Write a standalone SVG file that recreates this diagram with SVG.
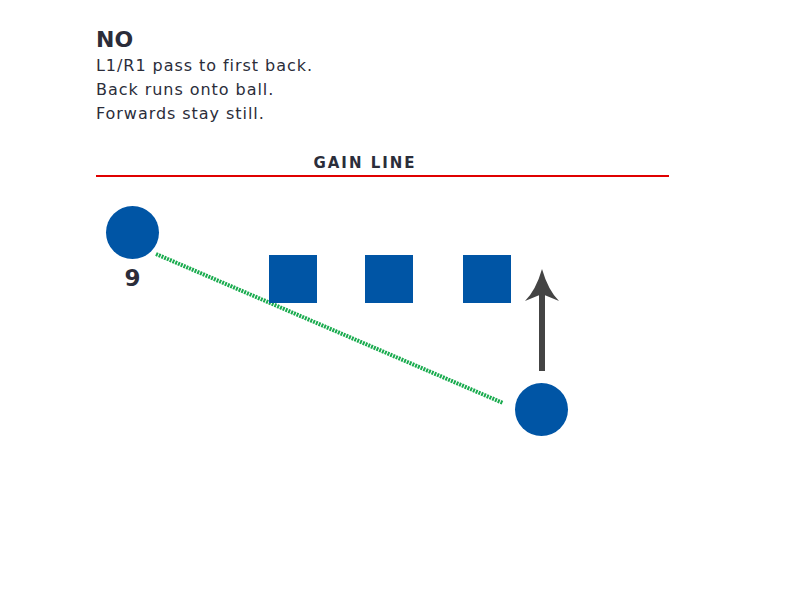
<svg xmlns="http://www.w3.org/2000/svg" width="801" height="609" viewBox="0 0 801 609">
<style>
.t{font-family:"DejaVu Sans","Noto Sans",sans-serif;fill:#2b2d3a}
.body{font-size:16px;letter-spacing:0.95px}
.player{fill:#0055a5}
</style>
<rect width="801" height="609" fill="#fff"/>
<g id="title">
<text class="t" x="96" y="47" font-size="22" font-weight="bold">NO</text>
<text class="t body" x="96" y="71">L1/R1 pass to first back.</text>
<text class="t body" x="96" y="95">Back runs onto ball.</text>
<text class="t body" x="96" y="119">Forwards stay still.</text>
</g>
<g id="gain-line">
<text class="t" x="365" y="168" font-size="15" font-weight="bold" text-anchor="middle" letter-spacing="2">GAIN LINE</text>
<line x1="96" y1="176" x2="669" y2="176" stroke="#e00000" stroke-width="2"/>
</g>
<g id="connectors">
<line x1="156" y1="254" x2="503" y2="403" stroke="#1aab4f" stroke-width="4" stroke-dasharray="2 1"/>
<line x1="542" y1="371" x2="542" y2="292" stroke="#444" stroke-width="6"/>
<path d="M542 269 Q548 290 559 301 L542 294 L525 301 Q536 290 542 269 Z" fill="#444"/>
</g>
<g id="player-9">
<circle class="player" cx="132.5" cy="232.5" r="26.5"/>
<text class="t" x="132.5" y="286" font-size="23" font-weight="bold" text-anchor="middle">9</text>
</g>
<g id="forward-1"><rect class="player" x="269" y="255" width="48" height="48"/></g>
<g id="forward-2"><rect class="player" x="365" y="255" width="48" height="48"/></g>
<g id="forward-3"><rect class="player" x="463" y="255" width="48" height="48"/></g>
<g id="back"><circle class="player" cx="541.5" cy="409.5" r="26.5"/></g>
</svg>
